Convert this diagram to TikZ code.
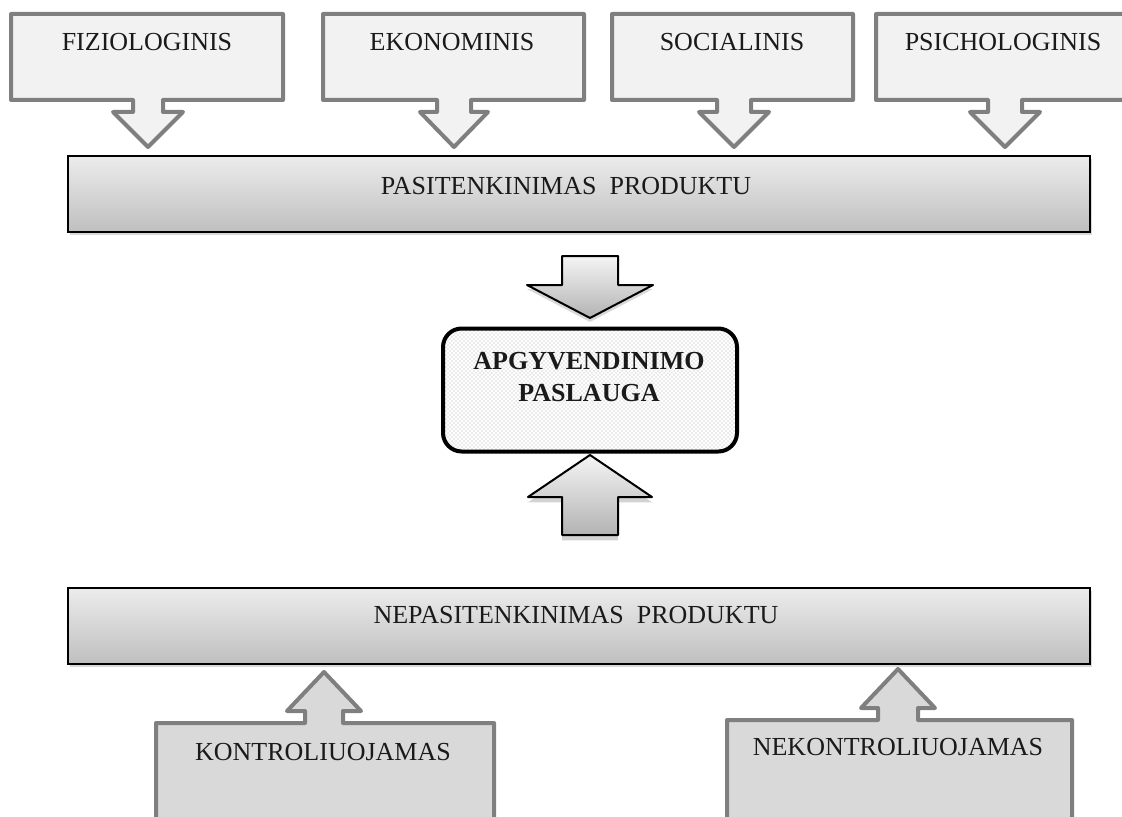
\documentclass[tikz,border=0pt]{standalone}
\usepackage{fontspec}
\setmainfont{Liberation Serif}
\usepackage{tikz}
\usetikzlibrary{patterns}
\usetikzlibrary{shadows}

\definecolor{edgegray}{HTML}{7F7F7F}
\definecolor{lightfill}{HTML}{F2F2F2}
\definecolor{midfill}{HTML}{D9D9D9}
\definecolor{inkgray}{HTML}{1A1A1A}

\begin{document}
\begin{tikzpicture}[x=0.75pt,y=-0.75pt,font=\fontsize{19.5}{23.5}\selectfont,text=inkgray]
\clip (0,0) rectangle (1122,817);
\draw[edgegray, fill=lightfill, line width=3pt, line join=round] (11,14) -- (283,14) -- (283,100) -- (163,100) -- (163,112) -- (183,112) -- (148,147) -- (113,112) -- (133,112) -- (133,100) -- (11,100) -- cycle;
\draw[edgegray, fill=lightfill, line width=3pt, line join=round] (323,14) -- (584,14) -- (584,100) -- (471,100) -- (471,112) -- (488,112) -- (454,147) -- (420,112) -- (437,112) -- (437,100) -- (323,100) -- cycle;
\draw[edgegray, fill=lightfill, line width=3pt, line join=round] (612,14) -- (853,14) -- (853,100) -- (751,100) -- (751,112) -- (769,112) -- (734,147) -- (699,112) -- (717,112) -- (717,100) -- (612,100) -- cycle;
\draw[edgegray, fill=lightfill, line width=3pt, line join=round] (876,14) -- (1130,14) -- (1130,100) -- (1022,100) -- (1022,112) -- (1040,112) -- (1005,147) -- (970,112) -- (988,112) -- (988,100) -- (876,100) -- cycle;
\draw[line width=1.5pt, top color=gray!15, bottom color=gray!50, drop shadow={opacity=0.3, shadow xshift=1.5pt, shadow yshift=-2pt}] (68,156) rectangle (1090,232);
\draw[line width=1.5pt, line join=round, top color=gray!8, bottom color=gray!60, drop shadow={opacity=0.3, shadow xshift=0pt, shadow yshift=-3pt}] (562,256) -- (618,256) -- (618,285) -- (653,285) -- (590,318) -- (527,285) -- (562,285) -- cycle;
\node[draw, line width=3pt, rounded corners=14pt, minimum width=220.5pt, minimum height=92.25pt, preaction={fill=white}, pattern=crosshatch dots, pattern color=gray!65] (apg) at (590,390) {};
\draw[line width=1.5pt, line join=round, top color=gray!8, bottom color=gray!60, drop shadow={opacity=0.35, shadow xshift=0pt, shadow yshift=-4pt}] (590,455) -- (652,497) -- (618,497) -- (618,535) -- (562,535) -- (562,497) -- (528,497) -- cycle;
\draw[line width=1.5pt, top color=gray!15, bottom color=gray!50, drop shadow={opacity=0.3, shadow xshift=1.5pt, shadow yshift=-2pt}] (68,588) rectangle (1090,664);
\draw[edgegray, fill=midfill, line width=3pt, line join=round] (156,830) -- (156,723) -- (305,723) -- (305,711) -- (287,711) -- (324,672) -- (361,711) -- (343,711) -- (343,723) -- (494,723) -- (494,830);
\draw[edgegray, fill=midfill, line width=3pt, line join=round] (727,830) -- (727,720) -- (878,720) -- (878,708) -- (861,708) -- (898,669) -- (935,708) -- (918,708) -- (918,720) -- (1072,720) -- (1072,830);
\node (fiz) at (147,42) {FIZIOLOGINIS};
\node (eko) at (452,42) {EKONOMINIS};
\node (soc) at (732,42) {SOCIALINIS};
\node (psi) at (1003,42) {PSICHOLOGINIS};
\node (pas) at (566,186) {PASITENKINIMAS\ \ PRODUKTU};
\node[align=center, font=\fontsize{19.5}{23.5}\selectfont\bfseries] (apgtxt) at (589,377) {APGYVENDINIMO\\PASLAUGA};
\node (nep) at (576,615) {NEPASITENKINIMAS\ \ PRODUKTU};
\node (kon) at (323,752) {KONTROLIUOJAMAS};
\node (nek) at (898,747) {NEKONTROLIUOJAMAS};
\end{tikzpicture}
\end{document}
